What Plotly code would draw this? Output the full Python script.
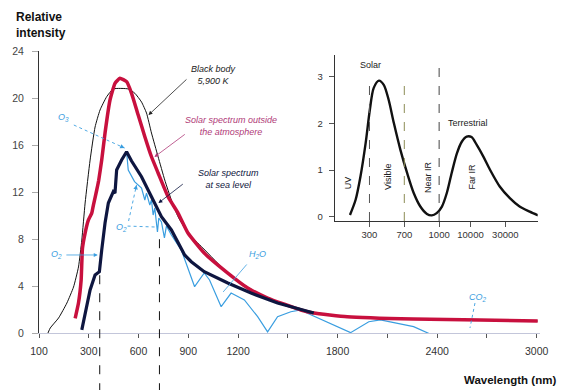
import plotly.graph_objects as go

# ---------------- main chart data (wavelength nm, relative intensity) ----------------
bb_x = [54, 68, 118, 168, 208, 238, 258, 278, 308, 338, 368, 408, 448, 538, 578, 618, 648, 678,
        718, 758, 798, 838, 898, 988, 1138, 1258, 1378, 1578, 1858, 2256, 2658, 3006]
bb_y = [0, 0.43, 1.28, 2.55, 3.91, 5.62, 7.91, 11.06, 14.72, 17.53, 18.98, 20.11, 20.77, 20.77,
        20.4, 19.66, 18.72, 17.02, 15.0, 13.02, 11.32, 9.9, 8.51, 7.23, 5.1, 3.9, 2.98, 1.96,
        1.39, 1.19, 1.1, 1.02]

out_x = [218, 238, 254, 262, 278, 298, 318, 328, 348, 360, 378, 398, 428, 458, 488, 528, 558, 598,
         638, 678, 718, 778, 838, 898, 996, 1138, 1258, 1378, 1578, 1656, 1858, 2256, 2658, 3006]
out_y = [1.25, 2.55, 4.51, 7.2, 8.51, 9.62, 10.2, 10.89, 12.17, 13.0, 14.72, 17.02, 19.83, 21.25,
         21.68, 21.39, 20.4, 18.55, 16.71, 15.0, 13.62, 11.6, 10.21, 8.51, 6.81, 5.1, 3.83, 2.98,
         1.96, 1.7, 1.39, 1.19, 1.1, 1.02]

sea_x = [258, 278, 308, 338, 364, 378, 398, 418, 448, 458, 468, 498, 528, 558, 618, 678, 738, 798,
         878, 918, 996, 1138, 1278, 1438, 1578, 1656]
sea_y = [0.26, 1.7, 3.66, 4.94, 5.22, 7.06, 9.36, 11.06, 12.03, 11.9, 13.87, 14.72, 15.43, 14.64,
         13.3, 11.6, 9.9, 8.77, 6.64, 6.07, 5.22, 4.26, 3.4, 2.55, 1.96, 1.7]

abs_x = [258, 278, 308, 338, 364, 378, 398, 418, 448, 458, 468, 498, 528, 538, 576, 618, 638, 648,
         668, 678, 688, 698, 714, 722, 738, 756, 768, 798, 858, 938, 996, 1028, 1098, 1158, 1238,
         1318, 1378, 1438, 1518, 1578, 1618, 1878, 1988, 2058, 2258, 2358]
abs_y = [0.26, 1.7, 3.66, 4.94, 5.22, 7.06, 9.36, 11.06, 12.03, 11.9, 13.87, 14.72, 15.43, 13.87,
         12.88, 12.34, 11.32, 11.91, 10.89, 11.32, 10.04, 10.64, 8.6, 9.79, 9.45, 8.09, 9.1, 8.34,
         7.06, 3.94, 5.11, 4.51, 2.24, 3.4, 2.81, 1.39, 0.09, 1.39, 1.81, 1.96, 1.68, 0.03, 0.96,
         1.11, 0.54, -0.09]

x_tickvals = [0, 300, 600, 900, 1200, 1500, 1800, 2100, 2400, 2700, 3000]
x_ticktext = ["100", "300", "600", "900", "1200", "", "1800", "", "2400", "", "3000"]
y_tickvals = [0, 4, 8, 12, 16, 20, 24]

# ---------------- inset data (band position index, intensity) ----------------
ins_x = [0.44, 0.6, 0.74, 0.89, 1.01, 1.12, 1.27, 1.41, 1.55, 1.70, 1.89, 2.08, 2.27, 2.46, 2.65,
         2.79, 2.93, 3.08, 3.22, 3.36, 3.51, 3.65, 3.79, 3.93, 4.08, 4.27, 4.46, 4.74, 5.03, 5.31,
         5.6, 5.84]
ins_y = [0.04, 0.36, 0.86, 1.58, 2.29, 2.76, 2.92, 2.83, 2.51, 2.01, 1.43, 0.94, 0.51, 0.22, 0.06,
         0.03, 0.08, 0.22, 0.51, 0.94, 1.36, 1.61, 1.72, 1.71, 1.54, 1.29, 1.01, 0.65, 0.40, 0.22,
         0.11, 0.03]
ins_tickvals = [1, 2, 3, 3.9, 4.9]
ins_ticktext = ["300", "700", "1000", "10000", "30000"]
ins_band_x = [1.0, 2.0, 3.0]
ins_band_top = [2.87, 2.87, 3.36]
ins_band_col = ["#555555", "#8c8c55", "#444444"]

RED = "#c8103e"
NAVY = "#0e1640"
BLUE = "#3a9ee0"
PINK = "#b03a78"
FONT = "Liberation Sans"

fig = go.Figure()
fig.add_trace(go.Scatter(x=bb_x, y=bb_y, mode="lines", line=dict(color="#111111", width=1, shape="spline", smoothing=0.5), hoverinfo="skip"))
fig.add_trace(go.Scatter(x=abs_x, y=abs_y, mode="lines", line=dict(color=BLUE, width=1.2), hoverinfo="skip"))
fig.add_trace(go.Scatter(x=out_x, y=out_y, mode="lines", line=dict(color=RED, width=3.5, shape="spline", smoothing=0.4), hoverinfo="skip"))
fig.add_trace(go.Scatter(x=sea_x, y=sea_y, mode="lines", line=dict(color=NAVY, width=3.2), hoverinfo="skip"))

fig.add_trace(go.Scatter(x=ins_x, y=ins_y, xaxis="x2", yaxis="y2", mode="lines",
                         line=dict(color="#111111", width=2.4, shape="spline", smoothing=0.8), hoverinfo="skip"))

# inset dashed band boundaries
for bx, bt, bc in zip(ins_band_x, ins_band_top, ins_band_col):
    fig.add_shape(type="line", xref="x2", yref="y2", x0=bx, x1=bx, y0=-0.09, y1=bt,
                  line=dict(color=bc, width=1, dash="dash"))

# main dashed vertical markers (extend below axis)
for vx, vtop in [(366, 5.22), (726, 8.2)]:
    fig.add_shape(type="line", xref="x", yref="paper", x0=vx, x1=vx, y0=-0.21, y1=vtop / 24,
                  line=dict(color="#111111", width=1, dash="dash"))

anns = []
def text(x, y, t, color, size=9, italic=True, xref="x", yref="y", angle=0, bold=False):
    anns.append(dict(x=x, y=y, xref=xref, yref=yref, text=t, showarrow=False, textangle=angle,
                     font=dict(family=FONT, size=size, color=color,
                               style="italic" if italic else "normal",
                               weight="bold" if bold else "normal")))

def arrow(x0, y0, x1, y1, color, head=2, width=0.8):
    anns.append(dict(x=x1, y=y1, ax=x0, ay=y0, xref="x", yref="y", axref="x", ayref="y", text="",
                     showarrow=True, arrowhead=head, arrowsize=1, arrowwidth=width, arrowcolor=color))

def dashed(x0, y0, x1, y1, color, head=True):
    fig.add_shape(type="line", xref="x", yref="y", x0=x0, y0=y0, x1=x1, y1=y1,
                  line=dict(color=color, width=0.9, dash="dot"))
    if head:
        dx, dy = (x1 - x0) * 0.08, (y1 - y0) * 0.08
        arrow(x1 - dx, y1 - dy, x1, y1, color, head=2, width=0.9)

text(1050, 21.96, "Black body<br>5,900 K", "#222222")
arrow(898, 21.7, 660, 18.55, "#222222")
text(1158, 17.6, "Solar spectrum outside<br>the atmosphere", PINK)
arrow(888, 17.0, 696, 14.98, PINK)
text(1140, 13.1, "Solar spectrum<br>at sea level", NAVY)
arrow(876, 12.77, 720, 11.06, NAVY)

text(150, 18.3, "O<sub>3</sub>", BLUE)
dashed(210, 17.7, 516, 15.74, BLUE)
text(108, 6.64, "O<sub>2</sub>", BLUE)
arrow(156, 6.64, 354, 6.64, BLUE)
text(498, 8.94, "O<sub>2</sub>", BLUE)
dashed(534, 9.1, 702, 9.02, BLUE)
dashed(540, 9.53, 588, 12.6, BLUE)
text(1320, 6.64, "H<sub>2</sub>O", BLUE)
arrow(1260, 5.96, 1110, 3.49, BLUE, head=0)
text(2646, 3.06, "CO<sub>2</sub>", BLUE)
dashed(2628, 2.55, 2598, 0.43, BLUE)

# inset labels
text(1.03, 3.25, "Solar", "#222222", size=9, italic=False, xref="x2", yref="y2")
text(3.83, 2.01, "Terrestrial", "#222222", size=9, italic=False, xref="x2", yref="y2")
text(0.37, 0.73, "UV", "#222222", size=9, italic=False, xref="x2", yref="y2", angle=-90)
text(1.51, 0.86, "Visible", "#222222", size=9, italic=False, xref="x2", yref="y2", angle=-90)
text(2.66, 0.86, "Near IR", "#222222", size=9, italic=False, xref="x2", yref="y2", angle=-90)
text(3.94, 0.86, "Far IR", "#222222", size=9, italic=False, xref="x2", yref="y2", angle=-90)

W, H = 563, 390
L, R, T, B = 37, 563 - 540.3, 51, 390 - 333
pw, ph = W - L - R, H - T - B

# axis titles (positioned in page pixels, converted to paper units)
anns.append(dict(x=(12 - L) / pw, y=(H - 8 - B) / ph, xref="paper", yref="paper",
                 xanchor="left", yanchor="top",
                 text="Relative<br>intensity", showarrow=False, align="left",
                 font=dict(family=FONT, size=12, color="#111111", weight="bold")))
anns.append(dict(x=(558 - L) / pw, y=(2 - B) / ph, xref="paper", yref="paper",
                 xanchor="right", yanchor="bottom",
                 text="Wavelength (nm)", showarrow=False,
                 font=dict(family=FONT, size=11.5, color="#111111", weight="bold")))

fig.update_layout(
    width=W, height=H, margin=dict(l=L, r=R, t=T, b=B),
    paper_bgcolor="white", plot_bgcolor="white", showlegend=False,
    font=dict(family=FONT, color="#333333"),
    xaxis=dict(range=[0, 3020], showline=True, linecolor="#c3c6da", linewidth=1, ticks="outside",
               ticklen=4, tickcolor="#555555", tickvals=x_tickvals, ticktext=x_ticktext,
               tickfont=dict(size=10.5, color="#333333"), showgrid=False, zeroline=False,
               ticklabelstandoff=4),
    yaxis=dict(range=[0, 24], showline=True, linecolor="#333333", linewidth=1, ticks="outside",
               ticklen=6, tickcolor="#aaaaaa", tickvals=y_tickvals,
               tickfont=dict(size=10.5, color="#444444"), showgrid=False, zeroline=False,
               ticklabelstandoff=6),
    xaxis2=dict(domain=[(334 - L) / pw, (538 - L) / pw], anchor="y2", range=[0, 5.83],
                showline=True, linecolor="#333333", linewidth=1, ticks="outside", ticklen=5,
                tickcolor="#555555", tickvals=ins_tickvals, ticktext=ins_ticktext,
                tickfont=dict(size=9.5, color="#333333"), showgrid=False, zeroline=False),
    yaxis2=dict(domain=[(333 - 221) / ph, (333 - 55) / ph], anchor="x2", range=[-0.09, 3.47],
                showline=True, linecolor="#333333", linewidth=1, ticks="outside", ticklen=5,
                tickcolor="#555555", tickvals=[0, 1, 2, 3],
                tickfont=dict(size=9.5, color="#333333"), showgrid=False, zeroline=False,
                ticklabelstandoff=4),
    annotations=anns,
)

fig.write_html("out.html")
